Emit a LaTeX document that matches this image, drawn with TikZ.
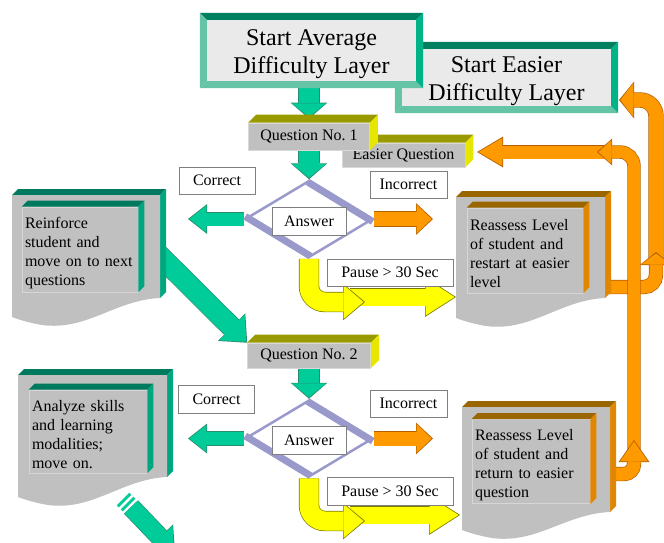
\documentclass[tikz,border=0pt]{standalone}
\usepackage{fontspec}
\setmainfont{Liberation Serif}
\usetikzlibrary{arrows.meta,shapes.geometric,backgrounds}

\definecolor{tealfill}{HTML}{00CC99}
\definecolor{tealedge}{HTML}{2A8C6E}
\definecolor{tealtop}{HTML}{007A5E}
\definecolor{tealside}{HTML}{00A67E}
\definecolor{layerface}{HTML}{EAEAEA}
\definecolor{layertop}{HTML}{00805F}
\definecolor{layerleft}{HTML}{66C4A6}
\definecolor{layerright}{HTML}{00B386}
\definecolor{qtop}{HTML}{999900}
\definecolor{qside}{HTML}{E6E600}
\definecolor{qface}{HTML}{C0C0C0}
\definecolor{qline}{HTML}{D8D8D8}
\definecolor{docface}{HTML}{C0C0C0}
\definecolor{docline}{HTML}{D6D6D6}
\definecolor{orangefill}{HTML}{FF9900}
\definecolor{orangeedge}{HTML}{B35F00}
\definecolor{orangetop}{HTML}{996600}
\definecolor{orangeside}{HTML}{E08600}
\definecolor{yellowfill}{HTML}{FFFF00}
\definecolor{yellowedge}{HTML}{7A7A00}
\definecolor{diamondcol}{HTML}{9999CC}
\definecolor{tagline}{HTML}{7F7F7F}

% top slab and right side of a raised box
\newcommand\bevel[4]{%
  \fill[#3] (#1.north west) -- ++(#2,#2) -- ([shift={(#2,#2)}]#1.north east) -- (#1.north east) -- cycle;
  \fill[#4] (#1.north east) -- ++(#2,#2) -- ([shift={(#2,#2)}]#1.south east) -- (#1.south east) -- cycle;}

% bevelled frame of the two start boxes
\newcommand\layerframe[1]{%
  \fill[layertop] (#1.north west) -- (#1.north east) -- ([shift={(-7pt,-7pt)}]#1.north east) -- ([shift={(7pt,-7pt)}]#1.north west) -- cycle;
  \fill[layerleft] (#1.north west) -- ([shift={(7pt,-7pt)}]#1.north west) -- ([shift={(7pt,7pt)}]#1.south west) -- (#1.south west) -- cycle;
  \fill[layerleft] (#1.south west) -- ([shift={(7pt,7pt)}]#1.south west) -- ([shift={(-7pt,7pt)}]#1.south east) -- (#1.south east) -- cycle;
  \fill[layerright] (#1.north east) -- (#1.south east) -- ([shift={(-7pt,7pt)}]#1.south east) -- ([shift={(-7pt,-7pt)}]#1.north east) -- cycle;}

% page with a wavy bottom: x1, top, x2, right bottom, left bottom, top colour, side colour
\newcommand\docpage[7]{%
  \fill[#6] (#1,#2) -- (#1+6,#2-6) -- (#3+6,#2-6) -- (#3,#2) -- cycle;
  \fill[#7] (#3,#2) -- (#3+6,#2-6) -- (#3+6,#4-6) -- (#3,#4) -- cycle;
  \fill[docface] (#1,#2) -- (#3,#2) -- (#3,#4)
    .. controls (#3-45,#4+2) and (#1+75,#5+14) .. (#1+30,#5+8)
    .. controls (#1+18,#5+6) and (#1+8,#5+3) .. (#1,#5) -- cycle;}

% block arrow: fill, edge, shaft, head width, head length, path
\newcommand\blockarrow[6]{%
  \pgfmathsetmacro\shaftout{#3+1.4}\pgfmathsetmacro\headout{#4+2.8}\pgfmathsetmacro\lenout{#5+2}%
  \draw[draw=#2, line width=\shaftout pt, -{Triangle[width=\headout pt, length=\lenout pt, line width=0pt]}] #6;
  \draw[draw=#1, line width=#3pt, shorten >=1.4pt, -{Triangle[width=#4pt, length=#5pt, line width=0pt]}] #6;}

\tikzset{
  layer/.style={fill=layerface, minimum width=223pt, inner sep=0pt},
  layertext/.style={align=center, inner sep=0pt, yshift=-4pt, font=\fontsize{24}{28}\selectfont},
  qbox/.style={fill=qface, draw=qline, line width=0.6pt, minimum width=121pt, minimum height=27pt, inner sep=0pt, font=\fontsize{16}{19}\selectfont},
  tag/.style={fill=white, draw=tagline, line width=0.6pt, minimum width=76pt, minimum height=27pt, inner sep=0pt, font=\fontsize{16}{19}\selectfont},
  decision/.style={diamond, fill=white, draw=diamondcol, line width=2.5pt, minimum width=128pt, minimum height=77pt, inner sep=0pt},
  note/.style={fill=docface, draw=docline, line width=0.6pt, inner sep=3pt, text width=110pt, text height=18pt, minimum height=85pt, align=left, font=\fontsize{16}{19}\selectfont}
}

\begin{document}
\begin{tikzpicture}[x=1pt, y=-1pt]
  \useasboundingbox (0,0) rectangle (664,542);

  % start boxes
  \node[layer, minimum height=71pt, label={[layertext]center:{Start Easier\\Difficulty Layer}}] (easy) at (506.5,77.5) {};
  \layerframe{easy}
  \node[layer, minimum height=75pt, label={[layertext]center:{Start Average\\Difficulty Layer}}] (avg) at (311.5,50.5) {};
  \layerframe{avg}

  % question boxes
  \node[qbox, minimum width=123pt, minimum height=24pt] (eq) at (403.5,155) {Easier Question};
  \bevel{eq}{8pt}{qtop}{qside}
  \node[qbox] (q1) at (309,136.5) {Question No.\ 1};
  \bevel{q1}{8pt}{qtop}{qside}
  \node[qbox, minimum width=123pt, minimum height=25pt] (q2) at (309,355.5) {Question No.\ 2};
  \bevel{q2}{8pt}{qtop}{qside}

  % pages
  \docpage{12}{195}{160}{298}{317}{tealtop}{tealside}
  \node[note] (reinf) at (80,249.5) {Reinforce\\student and\\move on to next\\questions};
  \bevel{reinf}{6pt}{tealtop}{tealside}
  \docpage{18}{375}{167}{477}{497}{tealtop}{tealside}
  \node[note, text width=112pt, minimum height=83pt] (anal) at (88,431.5) {Analyze skills\\and learning\\modalities;\\move on.};
  \bevel{anal}{6pt}{tealtop}{tealside}
  \docpage{456}{197}{605}{298}{318}{orangetop}{orangeside}
  \node[note] (reas1) at (525,250.5) {Reassess Level\\of student and\\restart at easier\\level};
  \bevel{reas1}{6pt}{orangetop}{orangeside}
  \docpage{462}{407}{610}{512}{530}{orangetop}{orangeside}
  \node[note, text width=112pt, minimum height=83pt] (reas2) at (531,461.5) {Reassess Level\\of student and\\return to easier\\question};
  \bevel{reas2}{6pt}{orangetop}{orangeside}

  % decisions
  \node[decision] (d1) at (309,219) {};
  \draw[diamondcol, line width=7pt] ([shift={(-1.5pt,-2.6pt)}]d1.north) -- ([shift={(-1.5pt,-2.6pt)}]d1.east);
  \draw[diamondcol, line width=7pt] ([shift={(1.5pt,2.6pt)}]d1.west) -- ([shift={(1.5pt,2.6pt)}]d1.south);
  \node[tag, minimum width=74pt, minimum height=28pt] (ans1) at (309,221) {Answer};
  \node[decision] (d2) at (309,438.5) {};
  \draw[diamondcol, line width=7pt] ([shift={(-1.5pt,-2.6pt)}]d2.north) -- ([shift={(-1.5pt,-2.6pt)}]d2.east);
  \draw[diamondcol, line width=7pt] ([shift={(1.5pt,2.6pt)}]d2.west) -- ([shift={(1.5pt,2.6pt)}]d2.south);
  \node[tag, minimum width=74pt, minimum height=28pt] (ans2) at (309,440.5) {Answer};

  % labels
  \node[tag] (cor1) at (217,180.5) {Correct};
  \node[tag, minimum width=77pt] (inc1) at (408.5,184.5) {Incorrect};
  \node[tag, minimum width=126pt] (pause1) at (390,272.5) {Pause > 30 Sec};
  \node[tag, minimum height=28pt] (cor2) at (216.5,399) {Correct};
  \node[tag, minimum width=77pt] (inc2) at (408.5,403.5) {Incorrect};
  \node[tag, minimum width=126pt, minimum height=28pt] (pause2) at (390,491) {Pause > 30 Sec};

  % free ends
  \coordinate (left1) at (188,219);
  \coordinate (right1) at (433,219);
  \coordinate (bend1) at (365,302);
  \coordinate (ys1) at (350,297);
  \coordinate (ye1) at (456,297);
  \coordinate (diag1) at (150,246);
  \coordinate (left2) at (188,438.5);
  \coordinate (right2) at (433,438.5);
  \coordinate (bend2) at (365,521);
  \coordinate (ys2) at (350,515);
  \coordinate (ye2) at (460,515);
  \coordinate (tail1) at (131,507);
  \coordinate (tail2) at (175,553);
  \coordinate (u1s) at (606,287);
  \coordinate (u1e) at (656,252);
  \coordinate (u2s) at (656,264);
  \coordinate (u2e) at (619,100);
  \coordinate (l1s) at (610,474);
  \coordinate (l1e) at (634,440);
  \coordinate (l2s) at (634,452);
  \coordinate (l2e) at (597,152);
  \coordinate (l3s) at (612,152);
  \coordinate (l3e) at (477,152);

  \begin{pgfonlayer}{background}
    % upper level
    \blockarrow{tealfill}{tealedge}{20}{34}{14}{(q1.north |- avg.south) -- ([yshift=4pt]q1.north)}
    \blockarrow{tealfill}{tealedge}{20}{34}{14}{(q1.south) -- (d1.north)}
    \blockarrow{tealfill}{tealedge}{13}{27}{17}{(d1.west) -- (left1)}
    \blockarrow{orangefill}{orangeedge}{14}{29}{15}{(d1.east) -- (right1)}
    \blockarrow{yellowfill}{yellowedge}{17}{37}{29}{(ys1) -- (ye1)}
    \blockarrow{yellowfill}{yellowedge}{19}{34}{20}{(d1.south) [rounded corners=16pt] |- (bend1)}
    \blockarrow{tealfill}{tealedge}{20}{36}{20}{(diag1) -- (q2.north west)}
    % lower level
    \blockarrow{tealfill}{tealedge}{20}{34}{14}{(q2.south) -- (d2.north)}
    \blockarrow{tealfill}{tealedge}{13}{27}{17}{(d2.west) -- (left2)}
    \blockarrow{orangefill}{orangeedge}{14}{29}{15}{(d2.east) -- (right2)}
    \blockarrow{yellowfill}{yellowedge}{17}{37}{29}{(ys2) -- (ye2)}
    \blockarrow{yellowfill}{yellowedge}{19}{34}{20}{(d2.south) [rounded corners=16pt] |- (bend2)}
    \draw[tealfill, line width=18pt] (123,499) -- (125,501);
    \draw[tealfill, line width=18pt] (127,503) -- (129,505);
    \blockarrow{tealfill}{tealedge}{18}{34}{20}{(tail1) -- (tail2)}
    % back to the easier level
    \blockarrow{orangefill}{orangeedge}{14}{34}{13}{(u2s) [rounded corners=16pt] |- (u2e)}
    \blockarrow{orangefill}{orangeedge}{13}{30}{11}{(u1s) [rounded corners=12pt] -| (u1e)}
    \blockarrow{orangefill}{orangeedge}{13}{28}{24}{(l3s) -- (l3e)}
    \blockarrow{orangefill}{orangeedge}{12}{24}{13}{(l2s) [rounded corners=14pt] |- (l2e)}
    \blockarrow{orangefill}{orangeedge}{13}{28}{20}{(l1s) [rounded corners=10pt] -| (l1e)}
  \end{pgfonlayer}
\end{tikzpicture}
\end{document}
